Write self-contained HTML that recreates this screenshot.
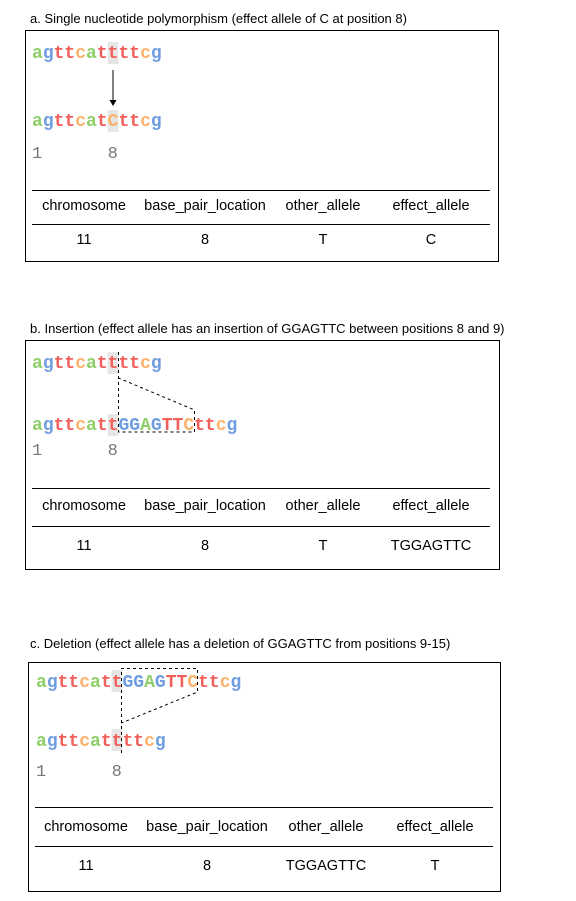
<!DOCTYPE html>
<html><head><meta charset="utf-8"><style>
html,body{margin:0;padding:0;background:#fff;}
svg{display:block}
.t{font-family:"Liberation Sans",Arial,sans-serif;font-size:13px;fill:#000}
.h{font-family:"Liberation Sans",Arial,sans-serif;font-size:14.5px;fill:#000}
.s{font-family:"Liberation Mono",monospace;font-size:18px;font-weight:bold}
.n{font-family:"Liberation Mono",monospace;font-size:17px;fill:#777}
.a{fill:#8fcf6a}.g{fill:#6f9de0}.x{fill:#f2605c}.c{fill:#fdb26b}
.d{stroke:#000;stroke-width:1;stroke-dasharray:3,3;fill:none}
</style></head><body>
<svg width="576" height="901" xmlns="http://www.w3.org/2000/svg">
<!-- Panel a -->
<text class="t" x="30" y="23">a. Single nucleotide polymorphism (effect allele of C at position 8)</text>
<rect x="25.5" y="30.5" width="473" height="231" fill="none" stroke="#000"/>
<rect x="107.6" y="42" width="10.8" height="22" fill="#e6e6e6"/>
<rect x="107.6" y="110" width="10.8" height="22" fill="#e6e6e6"/>
<text class="s" x="32" y="58"><tspan class="a">a</tspan><tspan class="g">g</tspan><tspan class="x">tt</tspan><tspan class="c">c</tspan><tspan class="a">a</tspan><tspan class="x">tttt</tspan><tspan class="c">c</tspan><tspan class="g">g</tspan></text>
<line x1="113" y1="70" x2="113" y2="101" stroke="#000"/>
<polygon points="109.5,100 116.5,100 113,106" fill="#000"/>
<text class="s" x="32" y="126"><tspan class="a">a</tspan><tspan class="g">g</tspan><tspan class="x">tt</tspan><tspan class="c">c</tspan><tspan class="a">a</tspan><tspan class="x">t</tspan><tspan class="c">C</tspan><tspan class="x">tt</tspan><tspan class="c">c</tspan><tspan class="g">g</tspan></text>
<text class="n" x="32" y="158">1</text><text class="n" x="107.6" y="158">8</text>
<line x1="32" y1="190.5" x2="490" y2="190.5" stroke="#000"/>
<line x1="32" y1="224.5" x2="490" y2="224.5" stroke="#000"/>
<g text-anchor="middle"><text class="h" x="84" y="210">chromosome</text><text class="h" x="205" y="210">base_pair_location</text><text class="h" x="323" y="210">other_allele</text><text class="h" x="431" y="210">effect_allele</text>
<text class="h" x="84" y="244">11</text><text class="h" x="205" y="244">8</text><text class="h" x="323" y="244">T</text><text class="h" x="431" y="244">C</text></g>

<!-- Panel b -->
<text class="t" x="30" y="333">b. Insertion (effect allele has an insertion of GGAGTTC between positions 8 and 9)</text>
<rect x="25.5" y="340.5" width="474" height="229" fill="none" stroke="#000"/>
<rect x="107.6" y="352" width="10.8" height="22" fill="#e6e6e6"/>
<rect x="107.6" y="414" width="10.8" height="22" fill="#e6e6e6"/>
<text class="s" x="32" y="368"><tspan class="a">a</tspan><tspan class="g">g</tspan><tspan class="x">tt</tspan><tspan class="c">c</tspan><tspan class="a">a</tspan><tspan class="x">tttt</tspan><tspan class="c">c</tspan><tspan class="g">g</tspan></text>
<text class="s" x="32" y="430"><tspan class="a">a</tspan><tspan class="g">g</tspan><tspan class="x">tt</tspan><tspan class="c">c</tspan><tspan class="a">a</tspan><tspan class="x">tt</tspan><tspan class="g">GG</tspan><tspan class="a">A</tspan><tspan class="g">G</tspan><tspan class="x">TT</tspan><tspan class="c">C</tspan><tspan class="x">tt</tspan><tspan class="c">c</tspan><tspan class="g">g</tspan></text>
<polyline class="d" points="118.5,352 118.5,432 194.5,432 194.5,410 118.5,378"/>
<text class="n" x="32" y="455">1</text><text class="n" x="107.6" y="455">8</text>
<line x1="32" y1="488.5" x2="490" y2="488.5" stroke="#000"/>
<line x1="32" y1="526.5" x2="490" y2="526.5" stroke="#000"/>
<g text-anchor="middle"><text class="h" x="84" y="510">chromosome</text><text class="h" x="205" y="510">base_pair_location</text><text class="h" x="323" y="510">other_allele</text><text class="h" x="431" y="510">effect_allele</text>
<text class="h" x="84" y="550">11</text><text class="h" x="205" y="550">8</text><text class="h" x="323" y="550">T</text><text class="h" x="431" y="550">TGGAGTTC</text></g>

<!-- Panel c -->
<text class="t" x="30" y="648">c. Deletion (effect allele has a deletion of GGAGTTC from positions 9-15)</text>
<rect x="28.5" y="662.5" width="472" height="229" fill="none" stroke="#000"/>
<rect x="111.6" y="670" width="10.8" height="22" fill="#e6e6e6"/>
<rect x="111.6" y="729" width="10.8" height="22" fill="#e6e6e6"/>
<text class="s" x="36" y="687"><tspan class="a">a</tspan><tspan class="g">g</tspan><tspan class="x">tt</tspan><tspan class="c">c</tspan><tspan class="a">a</tspan><tspan class="x">tt</tspan><tspan class="g">GG</tspan><tspan class="a">A</tspan><tspan class="g">G</tspan><tspan class="x">TT</tspan><tspan class="c">C</tspan><tspan class="x">tt</tspan><tspan class="c">c</tspan><tspan class="g">g</tspan></text>
<text class="s" x="36" y="746"><tspan class="a">a</tspan><tspan class="g">g</tspan><tspan class="x">tt</tspan><tspan class="c">c</tspan><tspan class="a">a</tspan><tspan class="x">tttt</tspan><tspan class="c">c</tspan><tspan class="g">g</tspan></text>
<polyline class="d" points="121.5,753 121.5,668.5 197.5,668.5 197.5,692 121.5,723"/>
<text class="n" x="36" y="776">1</text><text class="n" x="111.6" y="776">8</text>
<line x1="35" y1="807.5" x2="493" y2="807.5" stroke="#000"/>
<line x1="35" y1="846.5" x2="493" y2="846.5" stroke="#000"/>
<g text-anchor="middle"><text class="h" x="86" y="831">chromosome</text><text class="h" x="207" y="831">base_pair_location</text><text class="h" x="326" y="831">other_allele</text><text class="h" x="435" y="831">effect_allele</text>
<text class="h" x="86" y="870">11</text><text class="h" x="207" y="870">8</text><text class="h" x="326" y="870">TGGAGTTC</text><text class="h" x="435" y="870">T</text></g>
</svg>
</body></html>
